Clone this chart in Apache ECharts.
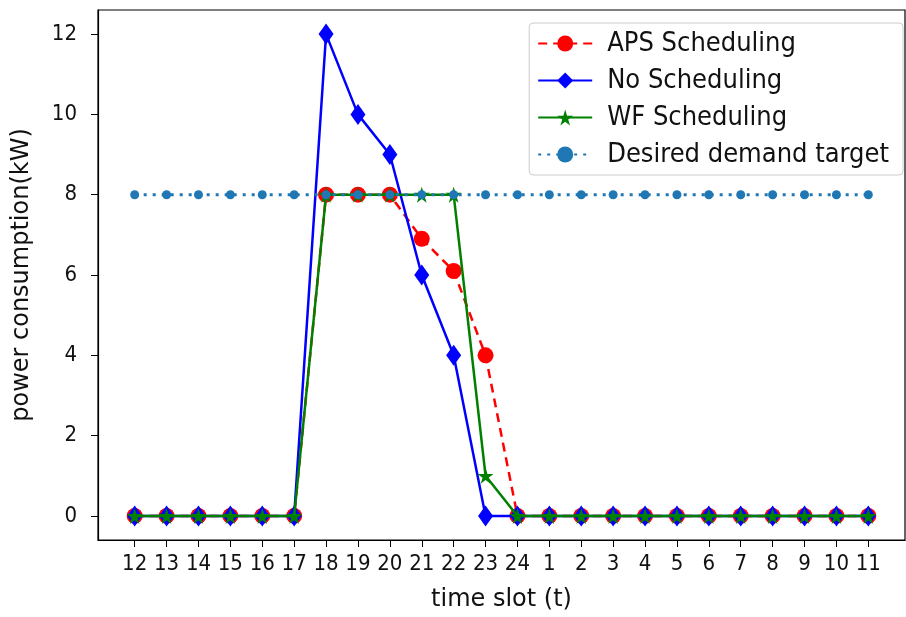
<!DOCTYPE html>
<html><head><meta charset="utf-8">
<script src="https://cdn.jsdelivr.net/npm/echarts@6/dist/echarts.min.js"></script>
<style>html,body{margin:0;padding:0;background:#fff}#c{width:906px;height:617px}</style>
</head><body><div id="c"></div>
<script>
var xLabels = ['12','13','14','15','16','17','18','19','20','21','22','23','24','1','2','3','4','5','6','7','8','9','10','11'];
var apsValues = [0,0,0,0,0,0,8,8,8,6.9,6.1,4,0,0,0,0,0,0,0,0,0,0,0,0];
var noValues  = [0,0,0,0,0,0,12,10,9,6,4,0,0,0,0,0,0,0,0,0,0,0,0,0];
var wfValues  = [0,0,0,0,0,0,8,8,8,8,8,1,0,0,0,0,0,0,0,0,0,0,0,0];
var targetValues = [8,8,8,8,8,8,8,8,8,8,8,8,8,8,8,8,8,8,8,8,8,8,8,8];
var yTicks = [0,2,4,6,8,10,12];

function pairs(vals){ return vals.map(function(v,i){ return [i,v]; }); }
var xIdx = xLabels.map(function(_,i){ return i; });
var star = 'path://M50,0 L61,35 L98,35 L68,57 L79,91 L50,70 L21,91 L32,57 L2,35 L39,35 Z';
var font = 'DejaVu Sans';
var condFont = "'DejaVu Sans Condensed', 'DejaVu Sans'";

var chart = echarts.init(document.getElementById('c'), null, {renderer:'canvas'});
chart.setOption({
  animation:false,
  backgroundColor:'#fff',
  grid:{left:98, right:1, top:10, bottom:77, show:true, borderColor:'#000', borderWidth:1.2, backgroundColor:'transparent'},
  xAxis:{
    type:'value', min:-1.15, max:24.15,
    name:'time slot (t)', nameLocation:'middle', nameGap:48,
    nameTextStyle:{fontFamily:font, fontSize:24, color:'#111'},
    axisLine:{onZero:false, lineStyle:{color:'#000', width:1.2}},
    axisTick:{show:true, length:7, customValues:xIdx, lineStyle:{color:'#000'}},
    axisLabel:{customValues:xIdx, formatter:function(v){ return xLabels[v]; }, fontFamily:condFont, fontSize:22, color:'#111', margin:13},
    splitLine:{show:false}
  },
  yAxis:{
    type:'value', min:-0.6, max:12.6,
    name:'power consumption(kW)', nameLocation:'middle', nameGap:64, nameRotate:90,
    nameTextStyle:{fontFamily:font, fontSize:24, color:'#111'},
    axisLine:{show:true, onZero:false, lineStyle:{color:'#000', width:1.2}},
    axisTick:{show:true, length:7, customValues:yTicks, lineStyle:{color:'#000'}},
    axisLabel:{customValues:yTicks, fontFamily:condFont, fontSize:22, color:'#111', margin:21},
    splitLine:{show:false}
  },
  legend:{
    right:3, top:23, orient:'vertical', itemGap:10, itemWidth:54, itemHeight:20,
    backgroundColor:'#fff', borderColor:'#ccc', borderWidth:1, borderRadius:4,
    padding:[7,14,7,8],
    textStyle:{fontFamily:condFont, fontSize:27, color:'#111', padding:[0,0,0,10]},
    data:['APS Scheduling','No Scheduling','WF Scheduling','Desired demand target']
  },
  series:[
    {name:'APS Scheduling', type:'line', data:pairs(apsValues), color:'#ff0000',
     lineStyle:{color:'#ff0000', width:2.5, type:[9,6]}, symbol:'circle', symbolSize:16,
     itemStyle:{color:'#ff0000'}, z:2},
    {name:'No Scheduling', type:'line', data:pairs(noValues), color:'#0000ff',
     lineStyle:{color:'#0000ff', width:2.5}, symbol:'diamond', symbolSize:[15,21],
     itemStyle:{color:'#0000ff'}, z:3},
    {name:'WF Scheduling', type:'line', data:pairs(wfValues), color:'#008000',
     lineStyle:{color:'#008000', width:2.5}, symbol:star, symbolSize:16,
     itemStyle:{color:'#008000'}, z:4},
    {name:'Desired demand target', type:'line', data:pairs(targetValues), color:'#1f77b4',
     lineStyle:{color:'#1f77b4', width:3, type:[3,6]}, symbol:'circle', symbolSize:9,
     itemStyle:{color:'#1f77b4'}, z:5}
  ]
});
</script></body></html>
